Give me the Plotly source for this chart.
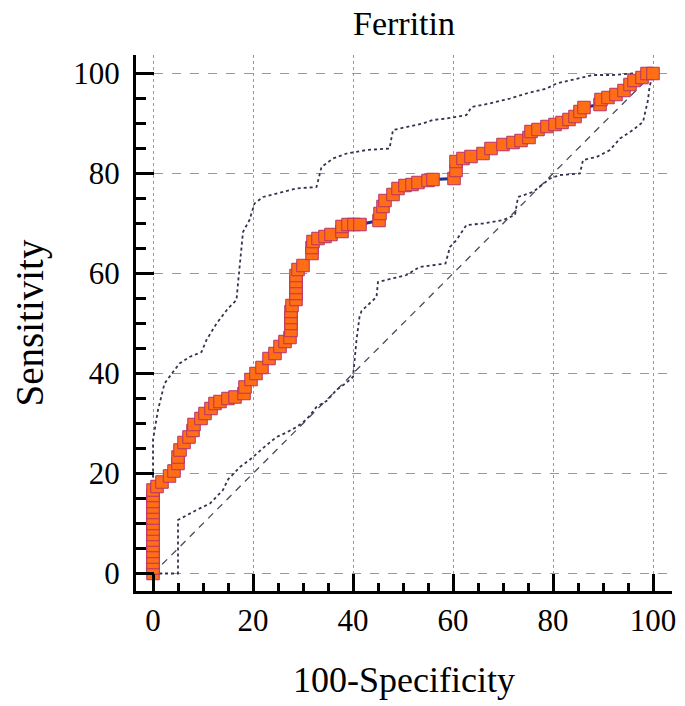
import plotly.graph_objects as go

# ROC curve points (100-Specificity, Sensitivity)
roc_x = [0, 0, 0, 0, 0, 0, 0, 0, 0, 0, 0, 0, 0, 0, 0, 0,
         0.8, 1.8, 3.3, 4.2, 5, 5, 5.4, 6.2, 7.2, 8, 8.2, 9.6, 10.4, 11.6, 12.4, 13.4, 15, 16.4,
         18.2, 18.4, 19.6, 20.6, 21.8, 23.2, 24.4, 25.4, 26.4, 27.4, 27.6, 27.6, 27.6, 27.6, 27.8,
         28.6, 28.6, 28.6, 28.6, 28.6, 29, 30, 31.8, 31.8, 32, 33, 34.4, 35.6, 37.8, 37.8, 39,
         40.2, 41.4, 45.2, 45.4, 46, 46.4, 48, 49, 50.4, 51.8, 53, 55, 56, 60.2, 60.6, 60.6, 62,
         63.6, 66, 67.6, 70, 72, 73.6, 75.2, 75.6, 77, 78.8, 80.4, 81.8, 83.2, 84.4, 85.4, 86.2,
         89.4, 89.6, 91, 92.6, 94.2, 95.4, 96.2, 97.8, 98.8, 100]
roc_y = [0, 1.1, 2.2, 3.3, 4.4, 5.6, 6.7, 7.8, 8.9, 10, 11.1, 12.2, 13.3, 14.4, 15.6, 16.7,
         17.4, 18.3, 19.5, 20.5, 22, 23.3, 24.7, 26.2, 27.3, 28.6, 29.8, 31, 32, 33, 34, 34.4, 35, 35.3,
         36, 37.3, 38.8, 40, 41.2, 43, 44, 45.4, 46.4, 47.2, 48.6, 50, 51.2, 52.4, 53.6,
         54.8, 56, 57.2, 58.4, 59.6, 60.8, 61.6, 64, 65.2, 66.4, 67, 67.4, 67.8, 68.4, 69.4, 69.8,
         69.8, 69.8, 70.6, 72, 73.4, 74.6, 75.8, 77, 77.6, 77.8, 78.2, 78.6, 78.8, 79, 80.6, 82.4, 83,
         83.4, 84, 85, 85.8, 86.2, 86.6, 87.2, 88.4, 88.8, 89.4, 89.8, 90.2, 90.8, 91.4, 92.4, 93.2,
         93.8, 94.8, 95.2, 95.8, 96.6, 97.8, 98.6, 99.2, 100, 100]

# Upper confidence band
upper_x = [0, 0, 1, 2.3, 4, 5.3, 7.3, 9.7, 10.7, 12.7, 15, 16.7, 17, 17.3, 18, 19.3, 20.3, 22,
           24.7, 28.7, 32.7, 33.7, 36, 38.7, 42.7, 47.3, 48, 50.7, 54, 56, 58.7, 62.7, 63.7,
           67.3, 71.4, 74.7, 78.7, 80.7, 84, 88, 92, 96, 100]
upper_y = [0, 26.7, 32.7, 38, 40.3, 42, 43.3, 44.3, 46.7, 50, 53, 54.7, 58, 61.3, 68.3, 70.7, 74,
           75.3, 76, 77, 77.3, 81.3, 83, 84, 84.7, 85, 88.7, 89.3, 90, 90.7, 91, 91.7, 93.3,
           94, 95, 96, 97, 98, 98.7, 99.7, 99.7, 100, 100]

# Lower confidence band
lower_x = [0, 5, 5, 7.3, 8.7, 11.4, 12.7, 14, 15, 17.4, 19.3, 20.7, 22.5, 24.7, 26.7, 28.7, 30.7,
           32.7, 34.7, 36.7, 38.5, 40, 40.7, 41.3, 41.7, 43.3, 44.7, 45, 48, 50.7, 53.3, 56, 58.5,
           59.4, 60.7, 62.7, 66, 70, 72.4, 73, 76, 79.4, 81.4, 85.4, 86, 88.7, 91.4, 93.4, 96,
           98, 99, 99.3, 100]
lower_y = [0, 0, 10.7, 12, 12.7, 14, 15.3, 16.7, 18.8, 21.3, 22.7, 24, 25.5, 27.3, 28.2, 29.3, 30.8,
           33.3, 34.5, 36.7, 38, 39.3, 46.7, 51.3, 52.5, 54, 55.3, 58.3, 59, 59.7, 61.3, 61.7, 62,
           65.3, 66.7, 69.7, 70, 70.7, 71.7, 75.3, 76.3, 79, 79.7, 80, 82.7, 83.3, 84.7, 87, 88.7,
           90.3, 94.7, 97.3, 100]

diag = [0, 100]

x_ticks = [0, 20, 40, 60, 80, 100]
y_ticks = [0, 20, 40, 60, 80, 100]

band_color = "#33334f"
serif = "Liberation Serif, Times New Roman, serif"

fig = go.Figure()
fig.add_trace(go.Scatter(x=diag, y=diag, mode="lines",
                         line=dict(color="#4a4a60", width=1.3, dash="7px,6px"),
                         hoverinfo="skip"))
fig.add_trace(go.Scatter(x=upper_x, y=upper_y, mode="lines",
                         line=dict(color=band_color, width=1.8, dash="3px,3px"),
                         hoverinfo="skip"))
fig.add_trace(go.Scatter(x=lower_x, y=lower_y, mode="lines",
                         line=dict(color=band_color, width=1.8, dash="3px,3px"),
                         hoverinfo="skip"))
fig.add_trace(go.Scatter(x=roc_x, y=roc_y, mode="lines+markers",
                         line=dict(color="#2b2b8c", width=3),
                         marker=dict(symbol="square", size=12.5, color="#FF6E14",
                                     line=dict(color="#B8306A", width=1))))

axis_common = dict(
    showline=True, linecolor="black", linewidth=3,
    ticks="inside", tickcolor="black", tickwidth=3,
    showgrid=True, gridcolor="#999999", gridwidth=1,
    zeroline=False, mirror=False, automargin=False,
    tickfont=dict(family=serif, size=31, color="black"),
)

fig.update_xaxes(range=[-3.4, 103.8], tickvals=x_ticks, ticklen=17, griddash="dot",
                 minor=dict(dtick=5, ticks="inside", ticklen=8, tickwidth=2.5, tickcolor="black",
                            showgrid=False),
                 title=dict(text="100-Specificity", standoff=30,
                            font=dict(family=serif, size=36, color="black")),
                 **axis_common)
fig.update_yaxes(range=[-3.5, 103.7], tickvals=y_ticks, ticklen=18, griddash="dash",
                 ticklabelstandoff=7,
                 minor=dict(dtick=5, ticks="inside", ticklen=10, tickwidth=2.5, tickcolor="black",
                            showgrid=False),
                 title=dict(text="Sensitivity", standoff=36,
                            font=dict(family=serif, size=39, color="black")),
                 **axis_common)

fig.update_layout(
    width=677, height=698,
    margin=dict(l=128, r=13, t=47, b=115, autoexpand=False),
    paper_bgcolor="white", plot_bgcolor="white",
    showlegend=False,
    annotations=[dict(text="Ferritin", x=0.5, xref="paper", y=1.0597, yref="paper",
                      xanchor="center", yanchor="middle", showarrow=False,
                      font=dict(family=serif, size=34, color="black"))],
)

fig.write_html("out.html")
